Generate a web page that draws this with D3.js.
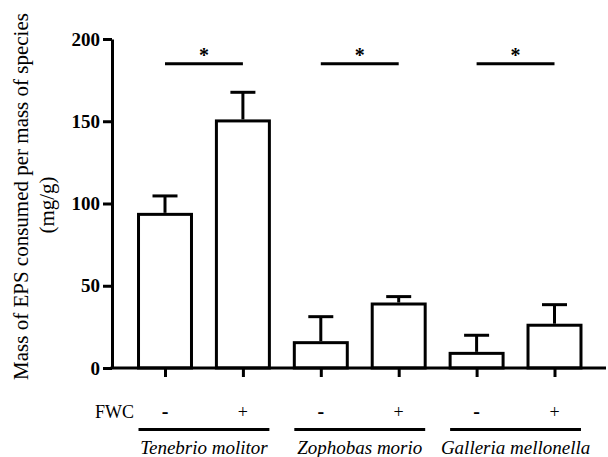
<!DOCTYPE html>
<html>
<head>
<meta charset="utf-8">
<script src="https://cdn.jsdelivr.net/npm/d3@7"></script>
<style>
  body { margin: 0; background: #fff; }
  text { font-family: "Liberation Serif", "Times New Roman", serif; fill: #000; }
</style>
</head>
<body>
<div id="chart-area"></div>
<script>
// data
var species = ["Tenebrio molitor", "Zophobas morio", "Galleria mellonella"];
var fwc = ["-", "+"];
var means = [93.4, 150.2, 15.4, 38.9, 8.9, 26.0];
var errors = [11.2, 17.4, 15.8, 4.5, 11.0, 12.5];
var yTicks = [0, 50, 100, 150, 200];
var sigLevel = 185; // height of significance bars
var sigMark = "*";

var data = [];
species.forEach(function(s, i) {
    fwc.forEach(function(f, j) {
        var k = i * 2 + j;
        data.push({ key: s + f, species: s, fwc: f, mean: means[k], err: errors[k] });
    });
});

var svg = d3.select("#chart-area")
    .append("svg")
        .attr("width", 608)
        .attr("height", 457);

var y = d3.scaleLinear()
    .domain([0, 200])
    .range([368, 39]);

var x = d3.scalePoint()
    .domain(data.map(function(d) { return d.key; }))
    .range([165, 554.5]);

var barW = x.step() * 0.68;

// bars
svg.selectAll("rect.bar")
        .data(data)
    .enter()
        .append("rect")
        .attr("class", "bar")
        .attr("x", function(d) { return x(d.key) - barW / 2; })
        .attr("y", function(d) { return y(d.mean); })
        .attr("width", barW)
        .attr("height", function(d) { return y(0) - y(d.mean); })
        .attr("fill", "#fff")
        .attr("stroke", "#000")
        .attr("stroke-width", 3);

// error bars (upper only)
var eb = svg.selectAll("g.err")
        .data(data)
    .enter()
        .append("g")
        .attr("class", "err");
eb.append("line")
    .attr("x1", function(d) { return x(d.key); })
    .attr("x2", function(d) { return x(d.key); })
    .attr("y1", function(d) { return y(d.mean) - 1.5; })
    .attr("y2", function(d) { return y(d.mean + d.err); })
    .attr("stroke", "#000").attr("stroke-width", 3);
eb.append("line")
    .attr("x1", function(d) { return x(d.key) - 12.5; })
    .attr("x2", function(d) { return x(d.key) + 12.5; })
    .attr("y1", function(d) { return y(d.mean + d.err); })
    .attr("y2", function(d) { return y(d.mean + d.err); })
    .attr("stroke", "#000").attr("stroke-width", 3);

// y axis
var yAxis = svg.append("g")
    .attr("transform", "translate(112,0)")
    .call(d3.axisLeft(y).tickValues(yTicks).tickSize(9).tickSizeOuter(0).tickPadding(3));
yAxis.select(".domain").attr("stroke-width", 3);
yAxis.selectAll(".tick line").attr("stroke-width", 3);
yAxis.selectAll(".tick text")
    .attr("font-family", "Liberation Serif, Times New Roman, serif")
    .attr("font-size", 19)
    .attr("font-weight", "bold");

// x axis: long baseline + ticks under each bar
svg.append("line")
    .attr("x1", 110.5).attr("x2", 606)
    .attr("y1", y(0)).attr("y2", y(0))
    .attr("stroke", "#000").attr("stroke-width", 3);
var xAxis = svg.append("g")
    .attr("transform", "translate(0," + y(0) + ")")
    .call(d3.axisBottom(x).tickSize(9).tickSizeOuter(0).tickFormat(""));
xAxis.select(".domain").remove();
xAxis.selectAll(".tick line").attr("stroke-width", 3);

// FWC row
svg.append("text")
    .attr("x", 95).attr("y", 418)
    .attr("font-size", 18)
    .text("FWC");
svg.selectAll("text.fwc")
        .data(data)
    .enter()
        .append("text")
        .attr("class", "fwc")
        .attr("x", function(d) { return x(d.key); })
        .attr("y", 418)
        .attr("text-anchor", "middle")
        .attr("font-size", function(d) { return d.fwc === "-" ? 20 : 18; })
        .attr("font-weight", function(d) { return d.fwc === "-" ? "bold" : "normal"; })
        .text(function(d) { return d.fwc; });

// species underline + italic names
var grp = svg.selectAll("g.grp")
        .data(species)
    .enter()
        .append("g")
        .attr("class", "grp");
grp.append("line")
    .attr("x1", function(d) { return x(d + fwc[0]) - barW / 2; })
    .attr("x2", function(d) { return x(d + fwc[1]) + barW / 2; })
    .attr("y1", 429.5).attr("y2", 429.5)
    .attr("stroke", "#000").attr("stroke-width", 3);
grp.append("text")
    .attr("x", function(d) { return (x(d + fwc[0]) + x(d + fwc[1])) / 2; })
    .attr("y", 454)
    .attr("text-anchor", "middle")
    .attr("font-size", 19)
    .attr("font-style", "italic")
    .text(function(d) { return d; });

// significance bars
var sig = svg.selectAll("g.sig")
        .data(species)
    .enter()
        .append("g")
        .attr("class", "sig");
sig.append("line")
    .attr("x1", function(d) { return x(d + fwc[0]); })
    .attr("x2", function(d) { return x(d + fwc[1]); })
    .attr("y1", y(sigLevel)).attr("y2", y(sigLevel))
    .attr("stroke", "#000").attr("stroke-width", 3);
sig.append("text")
    .attr("x", function(d) { return (x(d + fwc[0]) + x(d + fwc[1])) / 2; })
    .attr("y", y(sigLevel) - 2)
    .attr("text-anchor", "middle")
    .attr("font-size", 20)
    .attr("font-weight", "bold")
    .text(sigMark);

// y title
svg.append("text")
    .attr("transform", "translate(28,196.5) rotate(-90)")
    .attr("text-anchor", "middle")
    .attr("font-size", 21)
    .text("Mass of EPS consumed per mass of species");
svg.append("text")
    .attr("transform", "translate(54,205) rotate(-90)")
    .attr("text-anchor", "middle")
    .attr("font-size", 21)
    .text("(mg/g)");
</script>
</body>
</html>
